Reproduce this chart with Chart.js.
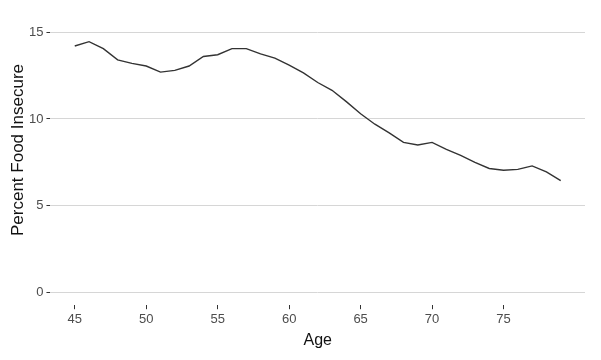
<!DOCTYPE html>
<html lang="en">
<head>
  <meta charset="UTF-8">
  <title>Food Insecurity by Age</title>
  <script src="https://cdn.jsdelivr.net/npm/chart.js"></script>
  <style>
    body { margin: 0; background: #ffffff; }
    .wrap { width: 601px; height: 360px; }
  </style>
</head>
<body>
<div class="wrap"><canvas id="ageChart" width="601" height="360"></canvas></div>
<script>
  const ages = [45, 46, 47, 48, 49, 50, 51, 52, 53, 54, 55, 56, 57, 58, 59, 60, 61,
                62, 63, 64, 65, 66, 67, 68, 69, 70, 71, 72, 73, 74, 75, 76, 77, 78, 79];
  const pctInsecure = [14.2, 14.45, 14.05, 13.4, 13.2, 13.05, 12.7, 12.8, 13.05, 13.6, 13.7, 14.05,
                       14.05, 13.75, 13.5, 13.1, 12.65, 12.1, 11.65, 11.0, 10.3, 9.7, 9.2, 8.65,
                       8.5, 8.65, 8.25, 7.9, 7.5, 7.15, 7.05, 7.1, 7.3, 6.95, 6.45];
  const xTicks = [45, 50, 55, 60, 65, 70, 75];
  const yTicks = [0, 5, 10, 15];

  const font = "'Liberation Sans', Arial, sans-serif";

  // y title sits a bit above the panel centre in the original, so draw it by hand
  const yTitle = {
    id: 'yTitle',
    afterDraw(chart) {
      const ctx = chart.ctx;
      ctx.save();
      ctx.translate(18, 150);
      ctx.rotate(-Math.PI / 2);
      ctx.font = '17px ' + font;
      ctx.fillStyle = '#111111';
      ctx.textAlign = 'center';
      ctx.textBaseline = 'middle';
      ctx.fillText('Percent Food Insecure', 0, 0);
      ctx.restore();
    }
  };

  new Chart(document.getElementById('ageChart'), {
    type: 'line',
    data: {
      datasets: [{
        data: ages.map((a, i) => ({ x: a, y: pctInsecure[i] })),
        borderColor: '#333333',
        borderWidth: 1.4,
        pointRadius: 0,
        tension: 0,
        fill: false
      }]
    },
    options: {
      responsive: false,
      animation: false,
      layout: { padding: { left: 26, right: 16, top: 29, bottom: 10 } },
      plugins: { legend: { display: false }, tooltip: { enabled: false } },
      scales: {
        x: {
          type: 'linear',
          min: 43.3,
          max: 80.7,
          afterBuildTicks: s => { s.ticks = xTicks.map(v => ({ value: v })); },
          border: { display: false },
          grid: { drawOnChartArea: false, drawTicks: true, tickLength: 4, tickColor: '#333333', tickWidth: 1 },
          ticks: { color: '#4d4d4d', font: { family: font, size: 13 }, padding: 2, maxRotation: 0 },
          title: { display: true, text: 'Age', color: '#111111', font: { family: font, size: 16 }, padding: { top: 2, bottom: 0 } }
        },
        y: {
          min: -0.72,
          max: 15.18,
          afterBuildTicks: s => { s.ticks = yTicks.map(v => ({ value: v })); },
          border: { display: false },
          grid: { color: '#d6d6d6', lineWidth: 1, drawTicks: true, tickLength: 4, tickColor: '#333333' },
          ticks: { color: '#4d4d4d', font: { family: font, size: 13 }, padding: 3 }
        }
      }
    },
    plugins: [yTitle]
  });
</script>
</body>
</html>
